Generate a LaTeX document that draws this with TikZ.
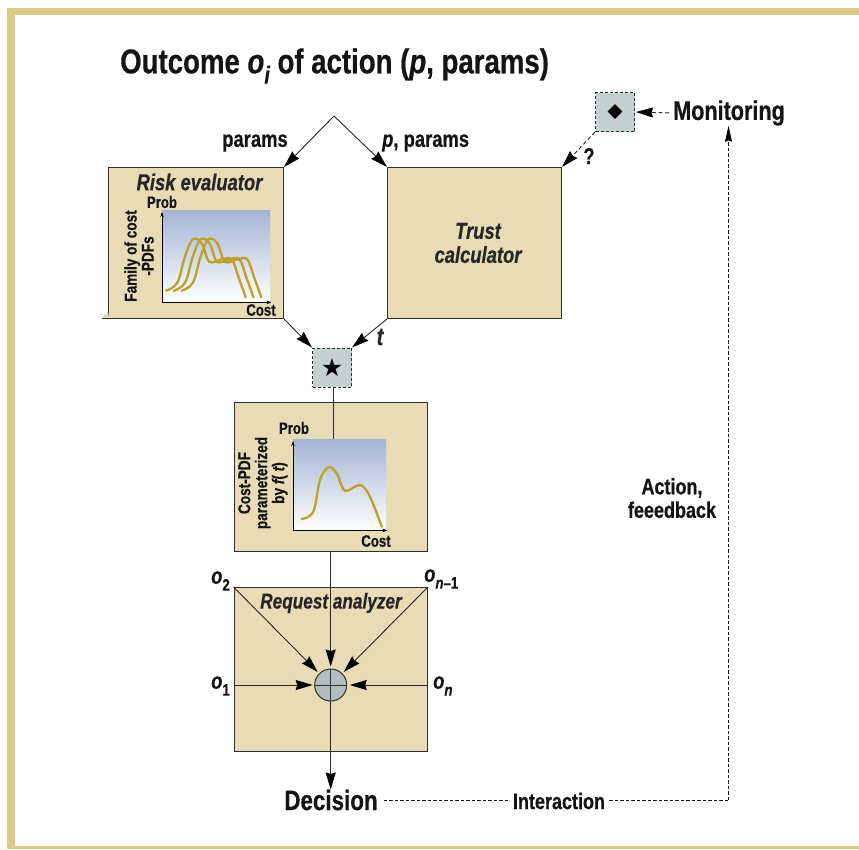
\documentclass[tikz,border=0pt]{standalone}
\usepackage{fontspec}
\setmainfont{Liberation Sans}
\newfontfamily\cf[FakeStretch=.8,FakeBold=.5]{Liberation Sans}
\newfontfamily\symf{DejaVu Sans}
\usetikzlibrary{arrows.meta,shapes.geometric}
\definecolor{frameC}{HTML}{DCCB87}
\definecolor{boxC}{HTML}{E8DBB5}
\definecolor{lineC}{HTML}{2E2E2E}
\definecolor{grayC}{HTML}{C5D0D0}
\definecolor{circC}{HTML}{B2BFBF}
\definecolor{curveC}{HTML}{BFA02A}
\definecolor{plotC}{HTML}{A3B4D5}
\newcommand{\sbs}[1]{\raisebox{-.3em}{\scalebox{.72}{#1}}}
\tikzset{
  panel/.style={draw=lineC,fill=boxC,line width=1pt,anchor=north west,inner sep=0pt},
  opbox/.style={draw=lineC,fill=grayC,dash pattern=on 3pt off 2pt,line width=1pt,minimum size=39pt,inner sep=0pt},
  txt/.style={inner sep=0pt,align=center,font=\cf\bfseries\fontsize{#1}{#1}\selectfont,text=black!92},
  itxt/.style={inner sep=0pt,align=center,font=\cf\bfseries\itshape\fontsize{#1}{24}\selectfont,text=black!85},
  tip/.style={-{Stealth[length=17pt,width=10pt,inset=1.5pt,color=black]}},
  arr/.style={draw=black!85,line width=.9pt,tip},
  darr/.style={arr,dash pattern=on 4pt off 2.5pt},
  thindash/.style={draw=black!90,line width=.8pt,dash pattern=on 3.5pt off 2pt},
  axisline/.style={line width=.8pt,-{Stealth[length=5pt,width=3.5pt]}},
  curve/.style={draw=curveC,line width=2.3pt,line cap=round,smooth,tension=.6},
  plotbg/.style={top color=plotC,bottom color=white,draw=none,anchor=north west,inner sep=0pt},
}
\begin{document}
\begin{tikzpicture}[x=1pt,y=-1pt]
\useasboundingbox (0,0) rectangle (859,849);
% frame
\fill[frameC] (7,8) rectangle (859,15);
\fill[frameC] (7,8) rectangle (15,849);
\fill[frameC] (7,846) rectangle (859,849);
% title
\node[txt=34.5,anchor=west] (title) at (120,66) {Outcome \itshape o\sbs{i} \upshape of action (\itshape p\upshape, params)};
% panels
\node[panel,minimum width=175pt,minimum height=151pt] (risk) at (108,167) {};
\fill[boxC] (102,318) -- (108,311) -- (109,318) -- cycle;
\draw[draw=lineC,line width=1pt] (108,318) -- (102,318);
\node[panel,minimum width=174pt,minimum height=151pt] (trust) at (387,167) {};
\node[panel,minimum width=193.5pt,minimum height=149pt] (costbox) at (233.5,402) {};
\node[panel,minimum width=193.5pt,minimum height=164pt] (req) at (233.5,587) {};
% plots
\node[plotbg,minimum width=108pt,minimum height=92pt] (plotA) at (162,210) {};
\node[plotbg,minimum width=93pt,minimum height=91pt] (plotB) at (293,439) {};
\draw[axisline] (plotA.south west) -- ([yshift=-2pt]plotA.north west);
\draw[axisline] (plotA.south west) -- ([xshift=1pt]plotA.south east);
\draw[axisline] (plotB.south west) -- ([yshift=-2pt]plotB.north west);
\draw[axisline] (plotB.south west) -- ([xshift=1pt]plotB.south east);
\foreach \s in {0,7.8,15.6}{
  \draw[curve,xshift=\s pt] plot coordinates {(166,290.7) (177.3,282.7) (185,256.7) (192.7,239.3) (201.7,243.3) (209.3,261.7) (221.7,259.3) (231.7,259.3) (238.3,276.7) (245.7,297.3)};
}
\draw[curve] plot coordinates {(301.7,519) (313.3,511.7) (320,480) (328.3,467.3) (336.7,473.3) (345,490.7) (360,485) (370,496.7) (381.7,526.7)};
% operator boxes
\node[opbox,draw] (star) at (332,367.5) {};
\node[font=\symf\fontsize{25}{25}\selectfont,inner sep=0pt] (starsym) at (332,367.5) {★};
\node[opbox,draw] (dia) at (615,112) {};
\node[diamond,fill=black,inner sep=0pt,minimum size=15pt] (diasym) at (615,111.5) {};
\node[circle,draw=lineC,fill=circC,line width=1pt,minimum size=32pt,inner sep=0pt] (sum) at (330.7,685) {};
\coordinate (apex) at (334,116);
\coordinate (starfoot) at (333,439);
\node[txt=28] (decision) at (331,800) {Decision};
\node[txt=27] (monitoring) at (729,113) {Monitoring};
\node[txt=22.5] (interaction) at (559,801) {Interaction};
\coordinate (turn) at (728.5,800);
% connectors
\draw[arr] (apex) -- (risk.north east);
\draw[arr] (apex) -- (trust.north west);
\draw[arr] (risk.south east) -- (star.north west);
\draw[arr] (trust.south west) -- (star.north east);
\draw[draw=lineC,line width=.8pt] (star.south -| starfoot) -- (starfoot);
\draw[arr,shorten >=2pt] (costbox.south -| sum) -- (sum.north);
\draw[arr,shorten >=2pt] (req.north west) -- (sum.135);
\draw[arr,shorten >=2pt] (req.north east) -- (sum.45);
\draw[arr,shorten >=1.5pt] (req.west |- sum) -- (sum.west);
\draw[arr,shorten >=2.5pt] (req.east |- sum) -- (sum.east);
\draw[draw=lineC,line width=.8pt] (sum.west) -- (sum.east);
\draw[draw=lineC,line width=.8pt] (sum.north) -- (sum.south);
\draw[arr] (sum.south) -- (decision.north -| sum);
\draw[darr] (dia.south west) -- (trust.north east);
\draw[darr,shorten >=1pt,shorten <=4pt] (monitoring.west) -- (dia.east);
\draw[thindash] ([xshift=6pt]decision.east |- turn) -- ([xshift=-3pt]interaction.west |- turn);
\draw[thindash] ([xshift=4pt]interaction.east |- turn) -- (turn);
\draw[thindash,-{Stealth[length=16pt,width=7pt,inset=1.5pt,color=black]}] (turn) -- (monitoring.south -| turn);
% labels
\node[txt=23] (lparams) at (255,143) {params};
\node[txt=23,anchor=west] (lpparams) at (382,143) {\itshape p\upshape, params};
\node[txt=23] (lq) at (589,156) {?};
\node[itxt=25] (lt) at (380,337) {t};
\node[txt=22.5] (laction) at (672,498) {Action,\\[1pt]feeedback};
\node[itxt=23] (lrisk) at (199.5,182) {Risk evaluator};
\node[itxt=23] (ltrust) at (478,243) {Trust\\calculator};
\node[txt=16.5] (lprobA) at (162,202) {Prob};
\node[txt=16.5] (lcostA) at (261,310) {Cost};
\node[txt=17,rotate=90] (lfam) at (139,256) {Family of cost\\-PDFs};
\node[txt=16.5] (lprobB) at (294,428) {Prob};
\node[txt=16.5] (lcostB) at (376,541) {Cost};
\node[txt=17,rotate=90] (lcpdf) at (263,483) {Cost-PDF\\parameterized\\by \itshape f\upshape( \itshape t\upshape)};
\node[itxt=21.5] (lreq) at (331,603) {Request analyzer};
\node[txt=23,anchor=east] (o2) at (230,581) {\itshape o\upshape\sbs{2}};
\node[txt=23,anchor=west] (on1) at (424,579) {\itshape o\sbs{n\upshape–1}};
\node[txt=23,anchor=east] (o1) at (230,686) {\itshape o\upshape\sbs{1}};
\node[txt=23,anchor=west] (on) at (433,686) {\itshape o\sbs{n}};
\end{tikzpicture}
\end{document}
